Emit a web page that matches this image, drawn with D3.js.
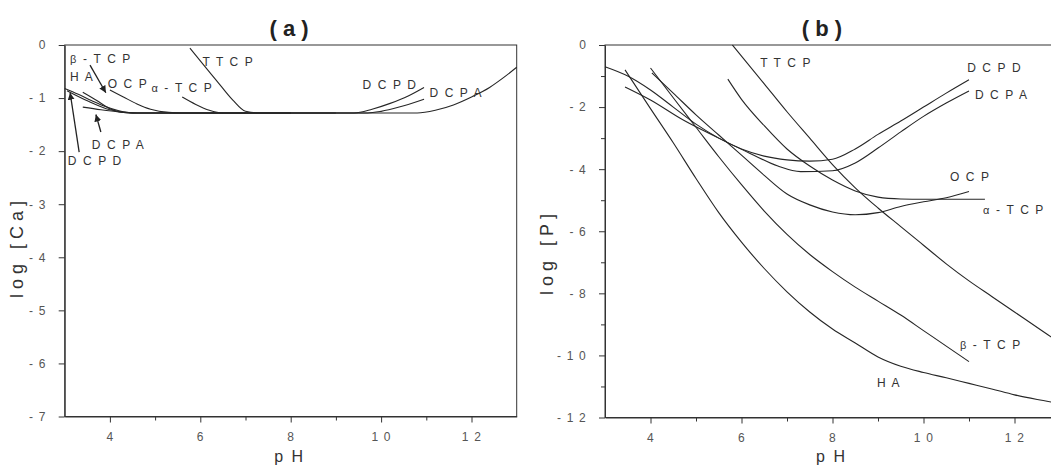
<!DOCTYPE html>
<html>
<head>
<meta charset="utf-8">
<script src="https://cdn.jsdelivr.net/npm/d3@7"></script>
<style>
  body { margin: 0; background: #fff; }
  text { font-family: "Liberation Sans", Arial, sans-serif; }
  .curve { fill: none; stroke: #262626; stroke-width: 1.1; }
  .axis path, .axis line { stroke: #333; }
  .axis text { fill: #555; font-size: 12px; letter-spacing: 1.2px; }
</style>
</head>
<body>
<div id="chart"></div>
<script>
// ---- data: [pH, log value] ----

// panel (a) log [Ca]
var caHA    = [[3.0,-0.82],[3.3,-0.93],[3.6,-1.05],[3.9,-1.16],[4.2,-1.24],[4.5,-1.28],[5,-1.28],[6,-1.28],[7,-1.28],[8,-1.28],[9,-1.28],[10,-1.28],[10.8,-1.28],[11.2,-1.23],[11.6,-1.13],[12.0,-0.98],[12.4,-0.80],[12.7,-0.62],[13.0,-0.42]];
var caBTCP  = [[3.4,-0.89],[3.7,-1.04],[4.0,-1.2],[4.3,-1.27],[4.6,-1.28],[6,-1.28],[8,-1.28]];
var caDCPA  = [[3.4,-1.17],[3.8,-1.22],[4.2,-1.26],[4.6,-1.28],[6,-1.28],[8,-1.28],[9.7,-1.28],[10.0,-1.25],[10.4,-1.17],[10.95,-1.02]];
var caDCPD  = [[3.05,-0.86],[3.5,-1.05],[4.0,-1.22],[4.5,-1.28],[6,-1.28],[8,-1.28],[9.4,-1.28],[9.8,-1.21],[10.2,-1.1],[10.6,-0.96],[10.95,-0.8]];
var caOCP   = [[4.0,-0.85],[4.3,-0.98],[4.6,-1.11],[4.9,-1.21],[5.3,-1.27],[5.6,-1.28],[7,-1.28]];
var caATCP  = [[5.6,-0.98],[5.9,-1.12],[6.2,-1.23],[6.5,-1.28],[8,-1.28]];
var caTTCP  = [[5.77,-0.06],[6.0,-0.3],[6.35,-0.66],[6.72,-1.04],[7.0,-1.25],[7.3,-1.28],[9,-1.28]];

// panel (b) log [P]
var pTTCP = [[5.8,0],[6.5,-1.25],[7.0,-2.15],[7.5,-3.0],[8.0,-3.85],[8.5,-4.6],[9.0,-5.25],[9.5,-5.85],[10.0,-6.45],[10.5,-7.05],[11.0,-7.6],[11.5,-8.1],[12.0,-8.6],[12.5,-9.1],[13.0,-9.6]];
var pDCPD = [[3.0,-0.7],[3.5,-1.0],[4.0,-1.45],[4.5,-2.0],[5.0,-2.55],[5.5,-3.0],[6.0,-3.35],[6.5,-3.58],[7.0,-3.7],[7.5,-3.74],[8.0,-3.68],[8.5,-3.35],[9.0,-2.88],[9.5,-2.45],[10.0,-2.0],[10.5,-1.55],[11.0,-1.12]];
var pDCPA = [[3.44,-1.35],[4.0,-1.77],[4.7,-2.4],[5.5,-3.0],[6.2,-3.5],[6.8,-3.9],[7.3,-4.08],[8.0,-4.05],[8.5,-3.8],[9.0,-3.32],[9.5,-2.8],[10.0,-2.3],[10.5,-1.87],[11.0,-1.48]];
var pOCP  = [[4.03,-0.9],[4.5,-1.55],[5.0,-2.25],[5.5,-2.9],[6.0,-3.55],[6.5,-4.2],[7.0,-4.8],[7.5,-5.15],[8.0,-5.38],[8.5,-5.47],[9.0,-5.4],[9.5,-5.2],[10.0,-5.05],[10.5,-4.92],[11.0,-4.72]];
var pATCP = [[5.7,-1.1],[6.0,-1.75],[6.5,-2.6],[7.0,-3.35],[7.5,-3.9],[8.0,-4.35],[8.5,-4.7],[9.0,-4.9],[9.5,-4.96],[10.0,-4.97],[11.35,-4.97]];
var pBTCP = [[4.0,-0.74],[4.5,-1.7],[5.0,-2.65],[5.5,-3.6],[6.0,-4.5],[6.5,-5.35],[7.0,-6.1],[7.5,-6.75],[8.0,-7.3],[8.5,-7.8],[9.0,-8.25],[9.5,-8.7],[10.0,-9.2],[10.5,-9.7],[11.0,-10.2]];
var pHA   = [[3.44,-0.8],[4.0,-2.05],[4.5,-3.15],[5.0,-4.3],[5.5,-5.4],[6.0,-6.35],[6.5,-7.2],[7.0,-7.95],[7.5,-8.6],[8.0,-9.15],[8.5,-9.6],[9.0,-10.05],[9.5,-10.35],[10.0,-10.55],[10.5,-10.72],[11.0,-10.9],[11.5,-11.08],[12.0,-11.27],[12.5,-11.42],[13.0,-11.55]];

// labels [text, pH, value]
var labelsA = [["β - T C P",3.12,-0.25],["H A",3.12,-0.60],["O C P",3.95,-0.72],["α - T C P",4.92,-0.81],["T T C P",6.05,-0.32],["D C P A",3.6,-1.88],["D C P D",3.07,-2.18],["D C P D",9.59,-0.75],["D C P A",11.07,-0.9]];
var labelsB = [["T T C P",6.41,-0.55],["D C P D",10.96,-0.74],["D C P A",11.13,-1.58],["O C P",10.58,-4.25],["α - T C P",11.31,-5.31],["β - T C P",10.8,-9.66],["H A",8.98,-10.88]];
// arrows in panel (a): [fromPH, fromVal, toPH, toVal]
var arrowsA = [[3.32,-2.02,3.12,-0.9],[3.8,-1.64,3.69,-1.31],[3.56,-0.38,3.91,-0.9]];

var xTicks = [4,6,8,10,12];

var width = 1051, height = 473;
var svg = d3.select("#chart").append("svg")
  .attr("width", width).attr("height", height);

svg.append("defs").append("marker")
  .attr("id", "arrow").attr("viewBox", "0 0 10 10")
  .attr("refX", 10).attr("refY", 5)
  .attr("markerWidth", 7).attr("markerHeight", 7)
  .attr("markerUnits", "userSpaceOnUse")
  .attr("orient", "auto")
  .append("path").attr("d", "M0,0L10,5L0,10z").attr("fill", "#222");

function spaced(d) { return String(d).split("").join(" "); }

function panel(o) {
  var x = d3.scaleLinear().domain([3, 13]).range([o.left, o.right]);
  var y = d3.scaleLinear().domain(o.yDomain).range([o.bottom, o.top]);
  var g = svg.append("g");

  // frame
  g.append("rect")
    .attr("x", x(3)).attr("y", y(0))
    .attr("width", x(13) - x(3)).attr("height", y(o.yDomain[0]) - y(0))
    .attr("fill", "none").attr("stroke", "#333");

  // x axis with minor ticks
  g.append("g").attr("class", "axis")
    .attr("transform", "translate(0," + o.bottom + ")")
    .call(d3.axisBottom(x).tickValues(d3.range(5, 13, 2)).tickSize(4).tickFormat(""))
    .call(function(a) { a.select(".domain").remove(); });
  g.append("g").attr("class", "axis")
    .attr("transform", "translate(0," + o.bottom + ")")
    .call(d3.axisBottom(x).tickValues(xTicks).tickSize(6).tickSizeOuter(0).tickPadding(10).tickFormat(spaced));

  // y axis
  if (o.yMinor) {
    g.append("g").attr("class", "axis")
      .attr("transform", "translate(" + o.left + ",0)")
      .call(d3.axisLeft(y).tickValues(o.yMinor).tickSize(4).tickFormat(""))
      .call(function(a) { a.select(".domain").remove(); });
  }
  g.append("g").attr("class", "axis")
    .attr("transform", "translate(" + o.left + ",0)")
    .call(d3.axisLeft(y).tickValues(o.yTicks).tickSize(6).tickSizeOuter(0).tickPadding(12).tickFormat(spaced));

  // curves
  var line = d3.line()
    .x(function(d) { return x(d[0]); })
    .y(function(d) { return y(d[1]); })
    .curve(d3.curveMonotoneX);
  o.series.forEach(function(s) {
    g.append("path").attr("class", "curve").attr("d", line(s));
  });

  // labels
  o.labels.forEach(function(l) {
    var t = g.append("text")
      .attr("x", x(l[1])).attr("y", y(l[2]) + 4.5)
      .attr("font-size", 12).attr("letter-spacing", 1.6)
      .attr("fill", "#333");
    if (l[0].charAt(0) == "α" || l[0].charAt(0) == "β") {
      t.append("tspan").attr("font-size", 11).text(l[0].charAt(0));
      t.append("tspan").text(l[0].slice(1));
    } else {
      t.text(l[0]);
    }
  });

  (o.arrows || []).forEach(function(a) {
    g.append("line")
      .attr("x1", x(a[0])).attr("y1", y(a[1]))
      .attr("x2", x(a[2])).attr("y2", y(a[3]))
      .attr("stroke", "#222").attr("stroke-width", 1.3)
      .attr("marker-end", "url(#arrow)");
  });

  // titles
  g.append("text")
    .attr("x", o.titleX).attr("y", 36)
    .attr("text-anchor", "middle")
    .attr("font-size", 22).attr("font-weight", "bold")
    .attr("fill", "#222")
    .text(o.title);
  g.append("text")
    .attr("x", (x(3) + x(13)) / 2 - 1).attr("y", 462)
    .attr("text-anchor", "middle")
    .attr("font-size", 16).attr("letter-spacing", 2).attr("fill", "#333")
    .text("p H");
  g.append("text")
    .attr("transform", "translate(" + o.yTitleX + "," + o.yTitleY + ") rotate(-90)")
    .attr("text-anchor", "middle")
    .attr("font-size", 18).attr("letter-spacing", 5).attr("fill", "#333")
    .text(o.yTitle);
}

panel({
  left: 64.7, right: 516.7, top: 45, bottom: 416.5,
  yDomain: [-7, 0], yTicks: d3.range(-7, 1),
  series: [caHA, caBTCP, caDCPA, caDCPD, caOCP, caATCP, caTTCP],
  labels: labelsA, arrows: arrowsA,
  title: "( a )", titleX: 289,
  yTitle: "log [Ca]", yTitleX: 23, yTitleY: 247
});

panel({
  left: 605, right: 1060, top: 45, bottom: 417.5,
  yDomain: [-12, 0], yTicks: d3.range(-12, 1, 2), yMinor: d3.range(-11, 0, 2),
  series: [pTTCP, pDCPD, pDCPA, pOCP, pATCP, pBTCP, pHA],
  labels: labelsB,
  title: "( b )", titleX: 822,
  yTitle: "log [P]", yTitleX: 553, yTitleY: 252
});
</script>
</body>
</html>
